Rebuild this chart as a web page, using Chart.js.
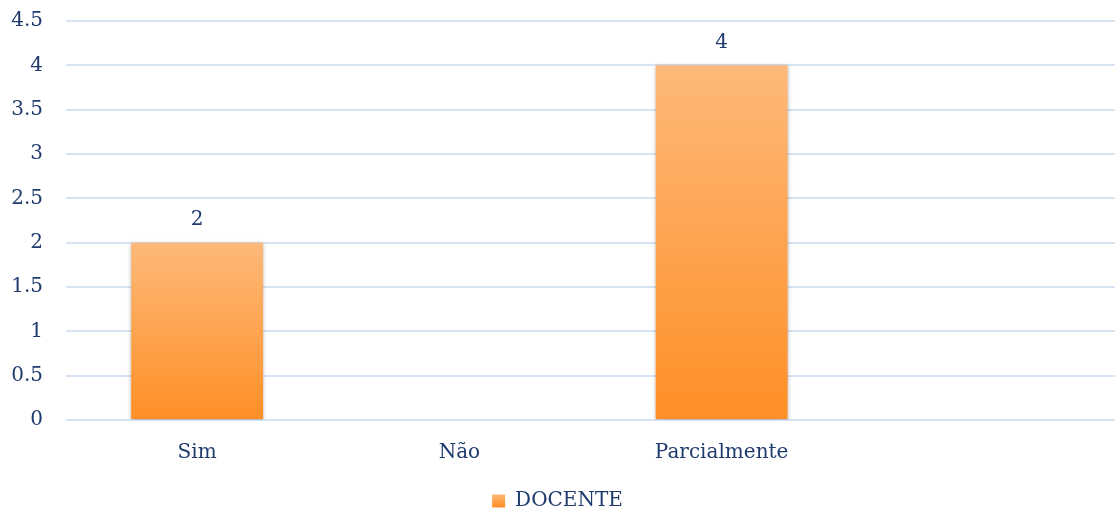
<!DOCTYPE html>
<html>
<head>
<meta charset="utf-8">
<script src="https://cdn.jsdelivr.net/npm/chart.js@4.4.1/dist/chart.umd.min.js"></script>
<style>
  html, body { margin: 0; padding: 0; background: #fff; }
  #wrap { width: 1115px; height: 513px; }
</style>
</head>
<body>
<div id="wrap"><canvas id="chart"></canvas></div>
<script>
// Respostas por categoria
const categories = ['Sim', 'Não', 'Parcialmente', ''];
const docenteValues = [2, null, 4, null];
const seriesName = 'DOCENTE';

const textColor = '#1f3b6e';
const gridColor = '#d7e3f2';
const fontFamily = '"DejaVu Serif", "Liberation Serif", serif';
const fontSize = 20;

function barGradient(context) {
    const chart = context.chart;
    const { ctx, chartArea, scales } = chart;
    if (!chartArea || !scales.y) return '#fda55a';
    const v = context.raw || 0;
    const top = scales.y.getPixelForValue(v);
    const bottom = scales.y.getPixelForValue(0);
    const g = ctx.createLinearGradient(0, top, 0, bottom);
    g.addColorStop(0, '#fdb97a');
    g.addColorStop(1, '#ff8f26');
    return g;
}

// soft shadow behind the bars
const barShadow = {
    id: 'barShadow',
    beforeDatasetsDraw(chart) {
        const c = chart.ctx;
        c.save();
        c.shadowColor = 'rgba(0,0,0,0.28)';
        c.shadowBlur = 4;
        c.shadowOffsetY = 1;
    },
    afterDatasetsDraw(chart) {
        chart.ctx.restore();
    }
};

// value written above each bar
const valueLabels = {
    id: 'valueLabels',
    afterDatasetsDraw(chart) {
        const c = chart.ctx;
        const meta = chart.getDatasetMeta(0);
        c.save();
        c.fillStyle = textColor;
        c.font = fontSize + 'px ' + fontFamily;
        c.textAlign = 'center';
        c.textBaseline = 'middle';
        meta.data.forEach((bar, i) => {
            const v = chart.data.datasets[0].data[i];
            if (v === null || v === undefined) return;
            c.fillText(String(v), bar.x, bar.y - 23);
        });
        c.restore();
    }
};

new Chart(document.getElementById('chart'), {
    type: 'bar',
    data: {
        labels: categories,
        datasets: [{
            label: seriesName,
            data: docenteValues,
            backgroundColor: barGradient,
            borderWidth: 0,
            categoryPercentage: 1,
            barPercentage: 0.503
        }]
    },
    options: {
        responsive: true,
        maintainAspectRatio: false,
        animation: false,
        layout: { autoPadding: false, padding: { top: 21, right: 0, left: 0, bottom: -8 } },
        plugins: {
            tooltip: { enabled: false },
            legend: {
                display: true,
                position: 'bottom',
                labels: {
                    color: textColor,
                    font: { family: fontFamily, size: fontSize },
                    boxWidth: 13,
                    boxHeight: 13,
                    padding: 4,
                    generateLabels(chart) {
                        const g = chart.ctx.createLinearGradient(0, 493, 0, 507);
                        g.addColorStop(0, '#fdb97a');
                        g.addColorStop(1, '#ff8f26');
                        return [{
                            text: seriesName,
                            fillStyle: g,
                            strokeStyle: 'rgba(0,0,0,0)',
                            lineWidth: 0,
                            fontColor: textColor,
                            datasetIndex: 0
                        }];
                    }
                }
            }
        },
        scales: {
            x: {
                grid: { display: false, drawTicks: false },
                border: { display: false },
                ticks: {
                    color: textColor,
                    font: { family: fontFamily, size: fontSize },
                    padding: 21,
                    maxRotation: 0
                },
                afterFit(scale) {
                    scale.height = 67;
                }
            },
            y: {
                min: 0,
                max: 4.5,
                ticks: {
                    stepSize: 0.5,
                    color: textColor,
                    font: { family: fontFamily, size: fontSize },
                    padding: 23,
                    callback: v => String(v)
                },
                grid: { color: gridColor, lineWidth: 2, drawTicks: false },
                border: { display: false },
                afterFit(scale) {
                    scale.width = 66;
                    scale.paddingTop = 0;
                    scale.paddingBottom = 0;
                }
            }
        }
    },
    plugins: [barShadow, valueLabels]
});
</script>
</body>
</html>
